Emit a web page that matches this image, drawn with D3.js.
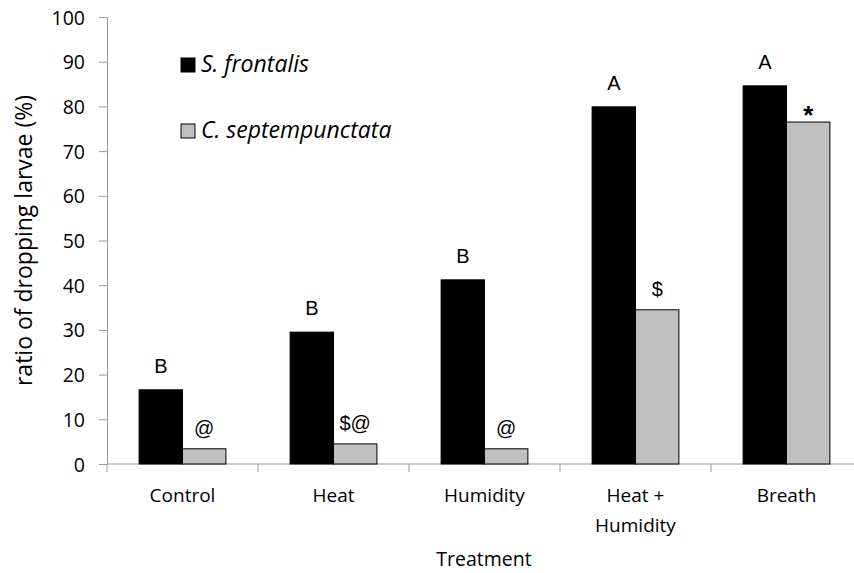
<!DOCTYPE html>
<html>
<head>
<meta charset="utf-8">
<script src="https://cdn.jsdelivr.net/npm/d3@7"></script>
<style>
  body { margin: 0; background: #fff; }
  svg { display: block; font-family: "Open Sans", sans-serif; }
</style>
</head>
<body>
<div id="chart"></div>
<script>
const categories = ['Control', 'Heat', 'Humidity', 'Heat + Humidity', 'Breath'];
const seriesNames = ['S. frontalis', 'C. septempunctata'];
const frontalis = [16.6, 29.5, 41.2, 79.9, 84.6];
const septempunctata = [3.4, 4.5, 3.4, 34.5, 76.5];
const frontalisMarks = ['B', 'B', 'B', 'A', 'A'];
const septemMarks = ['@', '$@', '@', '$', '*'];
const yTicks = [0, 10, 20, 30, 40, 50, 60, 70, 80, 90, 100];

const colors = ['#000000', '#c0c0c0'];
const width = 854, height = 573;
const margin = {top: 17, left: 107, bottom: 109};
const axisColor = '#999999';

const svg = d3.select('#chart').append('svg')
    .attr('width', width)
    .attr('height', height);

// band width ~151px, last band runs past the right edge like the original
const x = d3.scaleBand()
    .domain(categories)
    .range([margin.left, margin.left + 151 * categories.length]);

const y = d3.scaleLinear()
    .domain([0, 100])
    .range([height - margin.bottom, margin.top]);

// two bars of ~43px centred in each band
const sub = d3.scaleBand()
    .domain([0, 1])
    .range([0, x.bandwidth()])
    .paddingOuter(0.74)
    .paddingInner(0);

// y axis
const yAxis = svg.append('g')
    .attr('transform', `translate(${margin.left},0)`)
    .call(d3.axisLeft(y).tickValues(yTicks).tickSize(8).tickPadding(14));
yAxis.select('.domain').attr('stroke', axisColor);
yAxis.selectAll('.tick line').attr('stroke', axisColor);
yAxis.selectAll('.tick text')
    .attr('fill', '#000')
    .attr('dy', '0.36em')
    .style('font-size', '19.5px')
    .style('font-family', '"Open Sans", sans-serif');

// x axis with ticks at band boundaries
const xAxisG = svg.append('g')
    .attr('transform', `translate(0,${y(0)})`);
xAxisG.append('line')
    .attr('x1', margin.left).attr('x2', width)
    .attr('stroke', axisColor);
xAxisG.selectAll('.btick')
    .data(categories)
    .join('line')
    .attr('x1', d => x(d)).attr('x2', d => x(d))
    .attr('y1', 0).attr('y2', 8)
    .attr('stroke', axisColor);

const catText = xAxisG.selectAll('.cat')
    .data(categories)
    .join('text')
    .attr('x', d => x(d) + x.bandwidth() / 2)
    .attr('y', 38)
    .attr('text-anchor', 'middle')
    .style('font-size', '19px');
catText.each(function(d) {
    const parts = d === 'Heat + Humidity' ? ['Heat +', 'Humidity'] : [d];
    const t = d3.select(this);
    parts.forEach((p, i) => {
        t.append('tspan')
            .attr('x', x(d) + x.bandwidth() / 2)
            .attr('dy', i === 0 ? 0 : 30)
            .text(p);
    });
});

// bars
const series = [frontalis, septempunctata];
const marks = [frontalisMarks, septemMarks];
series.forEach((vals, s) => {
    svg.append('g').selectAll('rect')
        .data(vals)
        .join('rect')
        .attr('x', (d, i) => x(categories[i]) + sub(s))
        .attr('y', d => y(d))
        .attr('width', sub.bandwidth())
        .attr('height', d => y(0) - y(d))
        .attr('fill', colors[s])
        .attr('stroke', '#000')
        .attr('stroke-width', 1);

    svg.append('g').selectAll('text')
        .data(vals)
        .join('text')
        .attr('x', (d, i) => x(categories[i]) + sub(s) + sub.bandwidth() / 2)
        .attr('y', (d, i) => marks[s][i] === '*' ? y(d) + 2 : y(d) - (s === 0 ? 17 : 14))
        .attr('text-anchor', 'middle')
        .style('font-family', '"Liberation Sans", Arial, sans-serif')
        .style('font-size', (d, i) => marks[s][i] === '*' ? '26px' : '20px')
        .style('font-weight', (d, i) => marks[s][i] === '*' ? 'bold' : 'normal')
        .text((d, i) => marks[s][i]);
});

// axis titles
svg.append('text')
    .attr('transform', `translate(32,${(y(0) + y(100)) / 2}) rotate(-90)`)
    .attr('text-anchor', 'middle')
    .style('font-size', '23px')
    .text('ratio of dropping larvae (%)');

svg.append('text')
    .attr('x', 484)
    .attr('y', 566)
    .attr('text-anchor', 'middle')
    .style('font-size', '19.5px')
    .text('Treatment');

// legend
const legend = svg.append('g').attr('transform', 'translate(181,58)');
seriesNames.forEach((name, i) => {
    const row = legend.append('g').attr('transform', `translate(0,${i * 66})`);
    row.append('rect')
        .attr('width', 14).attr('height', 14)
        .attr('fill', colors[i])
        .attr('stroke', '#000');
    row.append('text')
        .attr('x', 20).attr('y', 14)
        .style('font-size', '23px')
        .style('font-style', 'italic')
        .text(name);
});
</script>
</body>
</html>
